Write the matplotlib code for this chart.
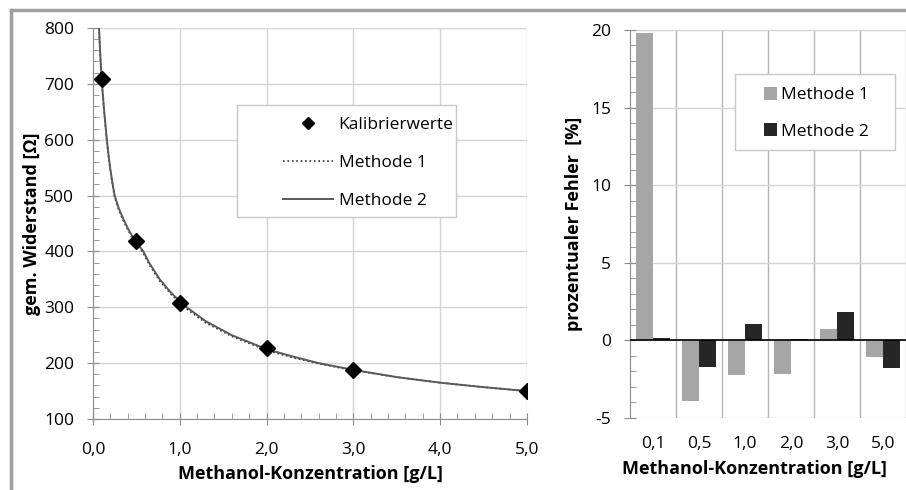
import matplotlib
matplotlib.use("Agg")
import matplotlib.pyplot as plt
import numpy as np
from matplotlib.lines import Line2D
from matplotlib.patches import Rectangle
from matplotlib.ticker import MultipleLocator, FixedLocator, NullFormatter

plt.rcParams['font.family'] = ['Open Sans', 'DejaVu Sans']
plt.rcParams['axes.unicode_minus'] = False

# Kalibrierwerte
konz = [0.1, 0.5, 1.0, 2.0, 3.0, 5.0]
widerstand = [708, 418, 308, 227, 188, 150]

# Kurven
kurve_c = [0.07, 0.085, 0.1, 0.13, 0.16, 0.18, 0.2, 0.22, 0.25, 0.3, 0.35,
           0.4, 0.45, 0.5, 0.58, 0.65, 0.77, 0.9, 1.0, 1.08, 1.3, 1.6, 2.0,
           2.3, 2.6, 3.0, 3.5, 4.0, 4.5, 5.0]
methode2_r = [800, 750, 708, 650, 600, 572, 548, 527, 500, 476, 458,
              442, 428, 416, 400, 379, 350, 326, 311, 300, 275, 250, 225,
              212, 200, 188, 175, 165, 157, 150]
methode1_r = [800, 748, 705, 647, 597, 569, 545, 524, 497, 473, 455,
              439, 425, 413, 397, 376, 347, 323, 308, 297, 272, 248, 223,
              210, 199, 187, 175, 165, 157, 150]

# prozentualer Fehler
kategorien = ['0,1', '0,5', '1,0', '2,0', '3,0', '5,0']
fehler_m1 = [19.8, -3.9, -2.25, -2.15, 0.75, -1.1]
fehler_m2 = [0.15, -1.7, 1.07, 0.1, 1.86, -1.75]

GRID = '#d4d4d4'
SPINE = '#8c8c8c'
FS = 12.5
LFS = 13

fig = plt.figure(figsize=(9.06, 4.9), dpi=100)

# ---- linkes Diagramm ----
ax1 = fig.add_axes([0.1026, 0.1449, 0.479, 0.798])
ax1.plot(kurve_c, methode1_r, linestyle=':', color='#333333', linewidth=1.2,
         label='Methode 1', zorder=3)
ax1.plot(kurve_c, methode2_r, linestyle='-', color='#5a5a5a', linewidth=1.4,
         label='Methode 2', zorder=3)
ax1.plot(konz, widerstand, linestyle='none', marker='D', markersize=8.5,
         color='black', label='Kalibrierwerte', zorder=4)

ax1.set_xlim(0, 5)
ax1.set_ylim(100, 800)
ax1.xaxis.set_major_locator(MultipleLocator(1))
ax1.xaxis.set_minor_locator(MultipleLocator(0.2))
ax1.yaxis.set_major_locator(MultipleLocator(100))
ax1.yaxis.set_minor_locator(MultipleLocator(20))
ax1.xaxis.set_major_formatter(plt.FuncFormatter(lambda v, p: f"{v:.1f}".replace('.', ',')))
ax1.grid(True, which='major', color=GRID, linewidth=1)
ax1.set_axisbelow(True)
for s in ['top', 'right']:
    ax1.spines[s].set_visible(False)
for s in ['left', 'bottom']:
    ax1.spines[s].set_color(SPINE)
ax1.tick_params(which='major', direction='inout', length=9, color=SPINE, labelsize=FS)
ax1.tick_params(which='minor', direction='in', length=4, color=SPINE)
ax1.tick_params(axis='x', which='major', pad=12)
ax1.tick_params(axis='y', which='major', pad=9)
ax1.set_xlabel('Methanol-Konzentration [g/L]', fontsize=LFS, fontweight='bold', labelpad=5)
ax1.set_ylabel('gem. Widerstand [Ω]', fontsize=LFS, fontweight='bold', labelpad=2)

# Legende mit eigenem Rahmen
ax1.add_patch(Rectangle((0.3318, 0.5166), 0.5046, 0.2864, transform=ax1.transAxes,
                        facecolor='white', edgecolor='#c8c8c8', linewidth=1, zorder=5))
h, l = ax1.get_legend_handles_labels()
order = [2, 0, 1]
leg1 = ax1.legend([h[i] for i in order], [l[i] for i in order],
                  loc='upper left', bbox_to_anchor=(0.4378, 0.772),
                  fontsize=FS, frameon=False, labelspacing=1.24, handlelength=2.9,
                  borderpad=0, handletextpad=0.3, borderaxespad=0, markerscale=0.75)
leg1.set_zorder(6)

# ---- rechtes Diagramm ----
ax2 = fig.add_axes([0.6954, 0.1469, 0.3046, 0.792])
x = np.arange(len(kategorien)) + 0.5
w = 0.36
ax2.bar(x - w / 2, fehler_m1, width=w, color='#a6a6a6', label='Methode 1', zorder=3)
ax2.bar(x + w / 2, fehler_m2, width=w, color='#262626', label='Methode 2', zorder=3)
ax2.axhline(0, color='black', linewidth=1.2, zorder=4)

ax2.set_xlim(0, len(kategorien))
ax2.set_ylim(-5, 20)
ax2.xaxis.set_major_locator(FixedLocator(x))
ax2.set_xticklabels(kategorien)
ax2.xaxis.set_minor_locator(FixedLocator(np.arange(1, len(kategorien) + 1)))
ax2.xaxis.set_minor_formatter(NullFormatter())
ax2.yaxis.set_major_locator(MultipleLocator(5))
ax2.yaxis.set_minor_locator(MultipleLocator(1))
ax2.grid(True, axis='y', which='major', color=GRID, linewidth=1)
ax2.grid(True, axis='x', which='minor', color='#b4b4b4', linewidth=1)
ax2.set_axisbelow(True)
for s in ['top', 'right', 'bottom']:
    ax2.spines[s].set_visible(False)
ax2.spines['left'].set_color(SPINE)
ax2.tick_params(axis='x', which='both', length=0, labelsize=FS, pad=13)
ax2.tick_params(axis='y', which='major', direction='inout', length=9, color=SPINE,
                labelsize=FS, pad=9)
ax2.tick_params(axis='y', which='minor', direction='in', length=4, color=SPINE)
ax2.set_xlabel('Methanol-Konzentration [g/L]', fontsize=LFS, fontweight='bold')
ax2.xaxis.set_label_coords(0.449, -0.108)
ax2.set_ylabel('prozentualer Fehler  [%]', fontsize=LFS, fontweight='bold', labelpad=6)

ax2.add_patch(Rectangle((0.3804, 0.6907), 0.5797, 0.1959, transform=ax2.transAxes,
                        facecolor='white', edgecolor='#c8c8c8', linewidth=1, zorder=5))
leg2 = ax2.legend(loc='upper left', bbox_to_anchor=(0.4855, 0.853), fontsize=FS,
                  frameon=False, labelspacing=1.15, handlelength=0.75, handleheight=0.75,
                  borderpad=0, handletextpad=0.25, borderaxespad=0)
leg2.set_zorder(6)

# grauer Rahmen
fig.add_artist(Line2D([0.012, 1.0], [0.979, 0.979], color='#a0a0a0', linewidth=2.5))
fig.add_artist(Line2D([0.012, 0.012], [0.0, 0.979], color='#a0a0a0', linewidth=2.5))

fig.savefig('out.png', dpi=100)
